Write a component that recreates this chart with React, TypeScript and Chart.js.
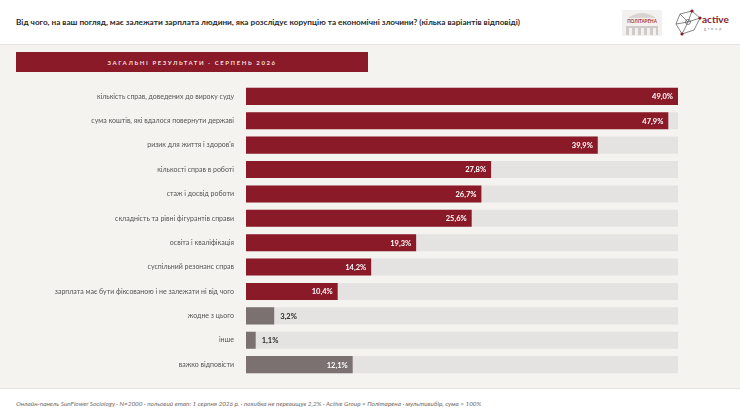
import React, { useEffect, useRef } from "react";
import { Chart, registerables } from "chart.js";

Chart.register(...registerables);

const categories = [
  "кількість справ, доведених до вироку суду",
  "сума коштів, які вдалося повернути державі",
  "ризик для життя і здоров'я",
  "кількості справ в роботі",
  "стаж і досвід роботи",
  "складність та рівні фігурантів справи",
  "освіта і кваліфікація",
  "суспільний резонанс справ",
  "зарплата має бути фіксованою і не залежати ні від чого",
  "жодне з цього",
  "інше",
  "важко відповісти",
];
const values = [49.0, 47.9, 39.9, 27.8, 26.7, 25.6, 19.3, 14.2, 10.4, 3.2, 1.1, 12.1];
const neutralCategories = ["жодне з цього", "інше", "важко відповісти"];
const axisMax = 49.0;

const RED = "#8b1a29";
const GREY = "#7b7170";
const TRACK = "#e5e3e1";
const BG = "#f4f3f0";
const FONT = "Lato, 'Noto Sans', sans-serif";

const fmt = (v: number) => v.toFixed(1).replace(".", ",") + "%";

const valueLabels = {
  id: "valueLabels",
  afterDatasetsDraw(chart: any) {
    const ctx = chart.ctx;
    const meta = chart.getDatasetMeta(0);
    ctx.save();
    ctx.font = `bold 7.5px ${FONT}`;
    ctx.textBaseline = "middle";
    meta.data.forEach((bar: any, i: number) => {
      const v = values[i];
      const txt = fmt(v);
      if (v >= 5) {
        ctx.fillStyle = "#ffffff";
        ctx.textAlign = "right";
        ctx.fillText(txt, bar.x - 5, bar.y + 0.5);
      } else {
        ctx.fillStyle = "#2b2b2b";
        ctx.textAlign = "left";
        ctx.fillText(txt, bar.x + 6, bar.y + 0.5);
      }
    });
    ctx.restore();
  },
};

function BarChart() {
  const ref = useRef<HTMLCanvasElement | null>(null);
  useEffect(() => {
    if (!ref.current) return;
    const colors = categories.map((c) => (neutralCategories.includes(c) ? GREY : RED));
    const chart = new Chart(ref.current, {
      type: "bar",
      data: {
        labels: categories,
        datasets: [
          {
            data: values,
            backgroundColor: colors,
            borderWidth: 0,
            barPercentage: 0.7,
            categoryPercentage: 1,
            grouped: false,
          },
          {
            data: categories.map(() => axisMax),
            backgroundColor: TRACK,
            borderWidth: 0,
            barPercentage: 0.7,
            categoryPercentage: 1,
            grouped: false,
          },
        ],
      },
      options: {
        indexAxis: "y",
        animation: false,
        responsive: false,
        maintainAspectRatio: false,
        devicePixelRatio: 1,
        layout: { padding: { top: 0, bottom: 0, right: 62, left: 0 } },
        plugins: {
          legend: { display: false },
          tooltip: { enabled: false },
          title: { display: false },
        },
        scales: {
          x: { display: false, min: 0, max: axisMax },
          y: {
            grid: { display: false, drawTicks: false },
            border: { display: false },
            afterFit: (scale: any) => {
              scale.width = 246;
            },
            ticks: {
              padding: 12,
              color: "#555555",
              font: { family: FONT, size: 7 },
            },
          },
        },
      },
      plugins: [valueLabels],
    });
    return () => chart.destroy();
  }, []);
  return <canvas ref={ref} width={740} height={325} style={{ position: "absolute", left: 0, top: 68, width: 740, height: 325 }} />;
}

export default function App() {
  return (
    <div style={{ position: "absolute", left: 0, top: 0, width: 740, height: 416, background: BG, overflow: "hidden", fontFamily: FONT }}>
      <div style={{ position: "absolute", left: 0, top: 0, width: 740, height: 44, background: "#ffffff", borderBottom: "1px solid #e4e2de" }}>
        <div style={{ position: "absolute", left: 16, top: 17, fontSize: 8.2, fontWeight: 700, color: "#2a2a2a", whiteSpace: "nowrap" }}>
          Від чого, на ваш погляд, має залежати зарплата людини, яка розслідує корупцію та економічні злочини? (кілька варіантів відповіді)
        </div>
        <svg style={{ position: "absolute", left: 618, top: 6 }} width={120} height={34} viewBox="0 0 120 34">
          <rect x="4" y="4" width="40" height="26" fill="#f3f1ef" />
          <path d="M10 12 Q24 2 38 12 Z" fill="#d8d4d2" />
          <text x="24" y="17" textAnchor="middle" fontSize="4.6" fontWeight="700" fill="#a33443" fontFamily={FONT}>ПОЛІТАРЕНА</text>
          <rect x="8" y="20" width="32" height="9" fill="#cfcbc9" />
          <rect x="11" y="22" width="3" height="7" fill="#f3f1ef" />
          <rect x="17" y="22" width="3" height="7" fill="#f3f1ef" />
          <rect x="23" y="22" width="3" height="7" fill="#f3f1ef" />
          <rect x="29" y="22" width="3" height="7" fill="#f3f1ef" />
          <rect x="35" y="22" width="3" height="7" fill="#f3f1ef" />
          <g stroke="#555" strokeWidth="0.7" fill="none">
            <polygon points="62,8 74,5 82,12 76,24 64,28 58,18" />
            <line x1="62" y1="8" x2="70" y2="16" />
            <line x1="74" y1="5" x2="70" y2="16" />
            <line x1="82" y1="12" x2="70" y2="16" />
            <line x1="58" y1="18" x2="70" y2="16" />
            <line x1="64" y1="28" x2="70" y2="16" />
            <circle cx="70" cy="16" r="2.5" />
          </g>
          <circle cx="74" cy="5" r="1.6" fill="#8b1a29" />
          <circle cx="82" cy="12" r="1.6" fill="#8b1a29" />
          <circle cx="64" cy="28" r="1.6" fill="#8b1a29" />
          <text x="84" y="17" fontSize="10" fontWeight="700" fill="#8b1a29" fontFamily={FONT}>active</text>
          <text x="86" y="24" fontSize="3.6" letterSpacing="2" fill="#777" fontFamily={FONT}>group</text>
        </svg>
      </div>
      <div style={{ position: "absolute", left: 16, top: 52, width: 352, height: 20, background: RED, color: "#f3dede", fontSize: 6, fontWeight: 700, letterSpacing: 1.6, display: "flex", alignItems: "center", justifyContent: "center", whiteSpace: "nowrap" }}>
        ЗАГАЛЬНІ РЕЗУЛЬТАТИ · СЕРПЕНЬ 2026
      </div>
      <BarChart />
      <div style={{ position: "absolute", left: 0, top: 388, width: 740, height: 28, background: "#ffffff", borderTop: "1px solid #e4e2de" }}>
        <div style={{ position: "absolute", left: 16, top: 11, fontSize: 6.4, fontStyle: "italic", color: "#6f6a68", whiteSpace: "nowrap" }}>
          Онлайн-панель SunFlower Sociology · N=2000 · польовий етап: 1 серпня 2026 р. · похибка не перевищує 2,2% · Active Group × Політарена · мультивибір, сума &gt; 100%
        </div>
      </div>
    </div>
  );
}
